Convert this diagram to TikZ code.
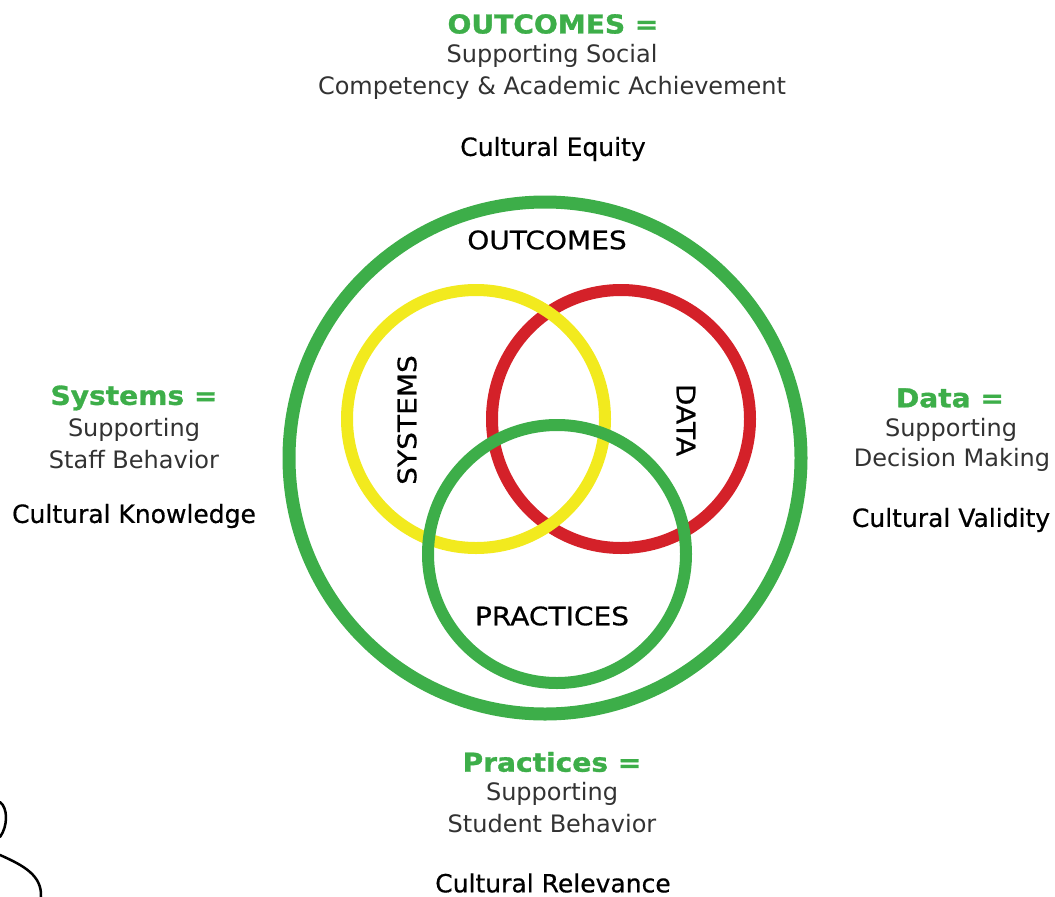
\documentclass[tikz,border=0pt]{standalone}
\usepackage{fontspec}
\setmainfont{DejaVu Sans}
\newfontfamily\medfont{DejaVu Sans}[FakeBold=0.6]
\newfontfamily\ringfont{DejaVu Sans}[FakeBold=0.6, FakeStretch=1.1]
\newfontfamily\headfont{DejaVu Sans}[BoldFeatures={FakeBold=1.2}, FakeStretch=1.08]
\usepackage{tikz}
\definecolor{pbgreen}{RGB}{61,174,73}
\definecolor{pbyellow}{RGB}{242,234,30}
\definecolor{pbred}{RGB}{212,33,41}
\definecolor{pbgray}{RGB}{50,50,50}

\begin{document}
\begin{tikzpicture}[line cap=round, line join=round, x=1pt, y=-1pt,
    head/.style={text=pbgreen, font=\fontsize{26}{30}\selectfont\headfont\bfseries},
    support/.style={text=pbgray, font=\fontsize{24}{30}\selectfont},
    culture/.style={text=black, inner sep=1pt, font=\fontsize{25}{30}\selectfont\medfont},
    ringtext/.style={text=black, font=\fontsize{25.5}{30}\selectfont\ringfont}]
                \useasboundingbox (0, 0) rectangle (1055, 897);
                % rings
                \draw[pbgreen, line width=13pt] (545, 458) circle[radius=256pt];
                \foreach \col/\cx/\cy in {pbred/621/419, pbyellow/476/419, pbgreen/557/554}
                    \draw[\col, line width=12pt] (\cx, \cy) circle[radius=129pt];
                \node[ringtext] (outcomes) at (547, 240) {OUTCOMES};
                \node[ringtext, rotate=90] (systems) at (407, 420) {SYSTEMS};
                \node[ringtext, rotate=-90] (data) at (686, 420) {DATA};
                \node[ringtext] (practices) at (552, 616) {PRACTICES};
                % top
                \node[head] (outhead) at (553, 24) {OUTCOMES =};
                \node[support] (outsup) at (552, 56) {Supporting Social};
                \node[support] (outcomp) at (552, 88) {Competency \& Academic Achievement};
                \node[culture] (equity) at (553, 149) {Cultural Equity};
                % left
                \node[head] (syshead) at (134, 398) {Systems =};
                \node[support] (syssup) at (134, 430) {Supporting};
                \node[support] (sysstaff) at (134, 460) {Staff Behavior};
                \node[culture] (knowledge) at (134, 516) {Cultural Knowledge};
                % right
                \node[head] (datahead) at (950, 398) {Data =};
                \node[support] (datasup) at (951, 430) {Supporting};
                \node[support] (datadec) at (952, 460) {Decision Making};
                \node[culture] (validity) at (951, 520) {Cultural Validity};
                % bottom
                \node[head] (prachead) at (552, 762) {Practices =};
                \node[support] (pracsup) at (552, 794) {Supporting};
                \node[support] (pracstud) at (552, 824) {Student Behavior};
                \node[culture] (relevance) at (553, 883) {Cultural Relevance};
                % pen mark
                \draw[black, line width=2.5pt] (0, 802) .. controls (8, 808) and (8, 826) .. (0, 837);
                \draw[black, line width=2.5pt] (0, 855) .. controls (25, 866) and (42, 876) .. (41, 897);
            \end{tikzpicture}
\end{document}
